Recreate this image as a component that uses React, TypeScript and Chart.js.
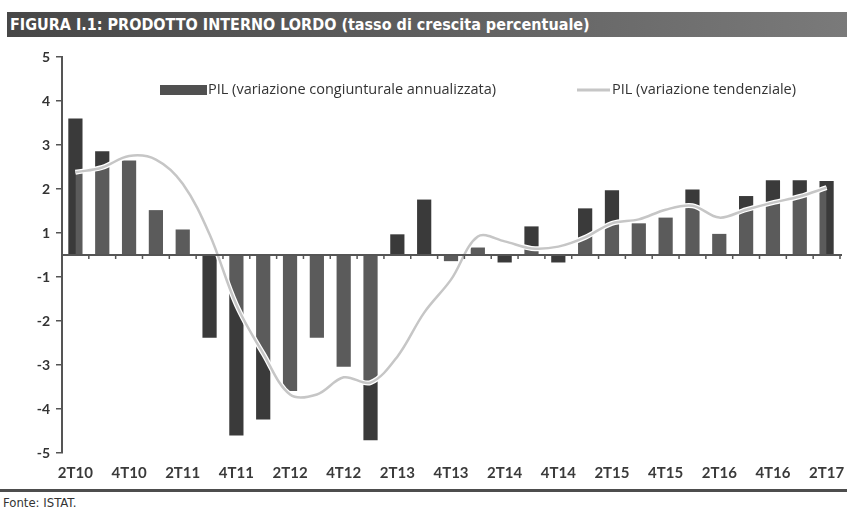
import React, { useEffect, useRef } from 'react';
import { Chart, registerables } from 'chart.js';

Chart.register(...registerables);

const titleText = 'FIGURA I.1: PRODOTTO INTERNO LORDO (tasso di crescita percentuale)';
const sourceText = 'Fonte: ISTAT.';
const barLabel = 'PIL (variazione congiunturale annualizzata)';
const lineLabel = 'PIL (variazione tendenziale)';

const categories = [
  '2T10', '3T10', '4T10', '1T11', '2T11', '3T11', '4T11', '1T12', '2T12', '3T12',
  '4T12', '1T13', '2T13', '3T13', '4T13', '1T14', '2T14', '3T14', '4T14', '1T15',
  '2T15', '3T15', '4T15', '1T16', '2T16', '3T16', '4T16', '1T17', '2T17',
];
const shownXLabels = [
  '2T10', '4T10', '2T11', '4T11', '2T12', '4T12', '2T13', '4T13',
  '2T14', '4T14', '2T15', '4T15', '2T16', '4T16', '2T17',
];
const barValues = [
  3.10, 2.36, 2.15, 1.02, 0.58, -1.88, -4.10, -3.74, -3.09, -1.88,
  -2.54, -4.21, 0.47, 1.26, -0.14, 0.17, -0.17, 0.65, -0.17, 1.06,
  1.47, 0.72, 0.85, 1.49, 0.48, 1.34, 1.70, 1.70, 1.68,
];
const lineValues = [
  1.88, 1.99, 2.25, 2.17, 1.62, 0.47, -1.13, -2.24, -3.17, -3.17,
  -2.78, -2.90, -2.31, -1.31, -0.56, 0.42, 0.31, 0.15, 0.19, 0.40,
  0.72, 0.81, 1.03, 1.12, 0.85, 1.03, 1.19, 1.33, 1.53,
];
const yTickValues = [-4.5, -3.5, -2.5, -1.5, -0.5, 0.5, 1.5, 2.5, 3.5, 4.5];
const yTickLabels = ['-5', '-4', '-3', '-2', '-1', '1', '2', '3', '4', '5'];

const BAR_COLOR = '#3a3a3a';
const LINE_COLOR = '#c6c6c6';
const AXIS_COLOR = '#555555';
const TEXT_COLOR = '#333333';
const FONT = 'Lato, "DejaVu Sans", sans-serif';
const LEGEND_FONT = '"Open Sans", "DejaVu Sans", sans-serif';

const zeroAxisPlugin = {
  id: 'zeroAxis',
  afterDatasetsDraw(chart: any) {
    const { ctx, chartArea, scales } = chart;
    const y0 = scales.y.getPixelForValue(0);
    const xs = scales.x;
    ctx.save();
    ctx.strokeStyle = AXIS_COLOR;
    ctx.lineWidth = 2;
    ctx.beginPath();
    ctx.moveTo(chartArea.left, y0);
    ctx.lineTo(chartArea.right + 2, y0);
    ctx.stroke();
    ctx.lineWidth = 1.5;
    const n = categories.length;
    const step = (chartArea.right - chartArea.left) / n;
    for (let i = 1; i <= n; i++) {
      const x = xs.getPixelForValue(i - 1) + step / 2;
      ctx.beginPath();
      ctx.moveTo(x, y0);
      ctx.lineTo(x, y0 + 4);
      ctx.stroke();
    }
    ctx.restore();
  },
};

const haloPlugin = {
  id: 'halo',
  beforeDatasetDraw(chart: any, args: any) {
    if (args.index !== 1) return;
    const pts = chart.getDatasetMeta(1).data;
    const ctx = chart.ctx;
    ctx.save();
    ctx.strokeStyle = '#ffffff';
    ctx.lineWidth = 5;
    ctx.lineJoin = 'round';
    ctx.beginPath();
    pts.forEach((p: any, i: number) => {
      if (i === 0) ctx.moveTo(p.x, p.y);
      else {
        const q = pts[i - 1];
        ctx.bezierCurveTo(q.cp2x, q.cp2y, p.cp1x, p.cp1y, p.x, p.y);
      }
    });
    ctx.stroke();
    ctx.restore();
  },
};

const legendPlugin = {
  id: 'customLegend',
  afterDraw(chart: any) {
    const ctx = chart.ctx;
    const yc = 50;
    ctx.save();
    ctx.fillStyle = '#505050';
    ctx.fillRect(160, yc - 5, 47, 10);
    ctx.strokeStyle = LINE_COLOR;
    ctx.lineWidth = 3;
    ctx.beginPath();
    ctx.moveTo(577, yc);
    ctx.lineTo(610, yc);
    ctx.stroke();
    ctx.fillStyle = TEXT_COLOR;
    ctx.font = `14.5px ${LEGEND_FONT}`;
    ctx.textBaseline = 'middle';
    ctx.textAlign = 'left';
    ctx.fillText(barLabel, 208, yc);
    ctx.fillText(lineLabel, 612, yc);
    // rule separating the chart from the source note
    ctx.fillStyle = '#4d4d4d';
    ctx.fillRect(0, chart.height - 6, chart.width, 3);
    ctx.restore();
  },
};

function GdpChart() {
  const ref = useRef<HTMLCanvasElement>(null);
  useEffect(() => {
    if (!ref.current) return;
    const chart = new Chart(ref.current, {
      type: 'bar',
      data: {
        labels: categories,
        datasets: [
          {
            type: 'bar',
            label: barLabel,
            data: barValues,
            backgroundColor: BAR_COLOR,
            borderWidth: 0,
            barPercentage: 0.53,
            categoryPercentage: 1,
            order: 2,
          } as any,
          {
            type: 'line',
            label: lineLabel,
            data: lineValues,
            borderColor: LINE_COLOR,
            borderWidth: 2.5,
            pointRadius: 0,
            tension: 0.35,
            fill: 'origin',
            backgroundColor: 'rgba(255,255,255,0.17)',
            order: 1,
          } as any,
        ],
      },
      options: {
        responsive: false,
        animation: false,
        layout: { padding: { top: 17, right: 7, left: 0, bottom: 10 } },
        plugins: {
          legend: { display: false },
          tooltip: { enabled: false },
          title: { display: false },
        },
        scales: {
          x: {
            grid: { display: false },
            border: { display: false },
            afterFit: (s: any) => {
              s.paddingLeft = 0;
              s.paddingRight = 0;
            },
            ticks: {
              autoSkip: false,
              maxRotation: 0,
              minRotation: 0,
              padding: 3,
              color: '#3a3a3a',
              font: { family: FONT, size: 15, weight: 'bold' },
              callback: (_v: any, i: number) =>
                shownXLabels.includes(categories[i]) ? categories[i] : '',
            },
          },
          y: {
            min: -4.5,
            max: 4.5,
            afterBuildTicks: (s: any) => {
              s.ticks = yTickValues.map((v) => ({ value: v }));
            },
            afterFit: (s: any) => {
              s.width = 62;
            },
            border: { display: true, color: AXIS_COLOR, width: 2 },
            grid: {
              display: true,
              drawOnChartArea: false,
              drawTicks: true,
              tickLength: 6,
              color: AXIS_COLOR,
              lineWidth: 1.5,
            },
            ticks: {
              padding: 6,
              color: TEXT_COLOR,
              font: { family: FONT, size: 14, weight: 'bold' },
              callback: (v: any) => {
                const k = yTickValues.indexOf(Number(v));
                return k >= 0 ? yTickLabels[k] : '';
              },
            },
          },
        },
      } as any,
      plugins: [zeroAxisPlugin, haloPlugin, legendPlugin],
    });
    return () => chart.destroy();
  }, []);
  return (
    <canvas
      ref={ref}
      width={847}
      height={455}
      style={{ position: 'absolute', left: 0, top: 40, width: 847, height: 455 }}
    />
  );
}

export default function App() {
  return (
    <div
      style={{
        position: 'absolute',
        left: 0,
        top: 0,
        width: 847,
        height: 516,
        background: '#ffffff',
        overflow: 'hidden',
      }}
    >
      <div
        style={{
          position: 'absolute',
          left: 7,
          top: 12,
          width: 840,
          height: 25,
          background: 'linear-gradient(90deg, #474747 0%, #5c5c5c 45%, #7a7a7a 100%)',
          color: '#ffffff',
          fontFamily: '"DejaVu Sans Condensed", "DejaVu Sans", sans-serif',
          fontWeight: 'bold',
          fontSize: 16,
          lineHeight: '25px',
          paddingLeft: 3,
          boxSizing: 'border-box',
          whiteSpace: 'nowrap',
        }}
      >
        {titleText}
      </div>
      <GdpChart />
      <div
        style={{
          position: 'absolute',
          left: 3,
          top: 495,
          fontFamily: '"DejaVu Sans Condensed", "DejaVu Sans", sans-serif',
          fontSize: 13,
          color: '#333333',
          lineHeight: '16px',
        }}
      >
        {sourceText}
      </div>
    </div>
  );
}
